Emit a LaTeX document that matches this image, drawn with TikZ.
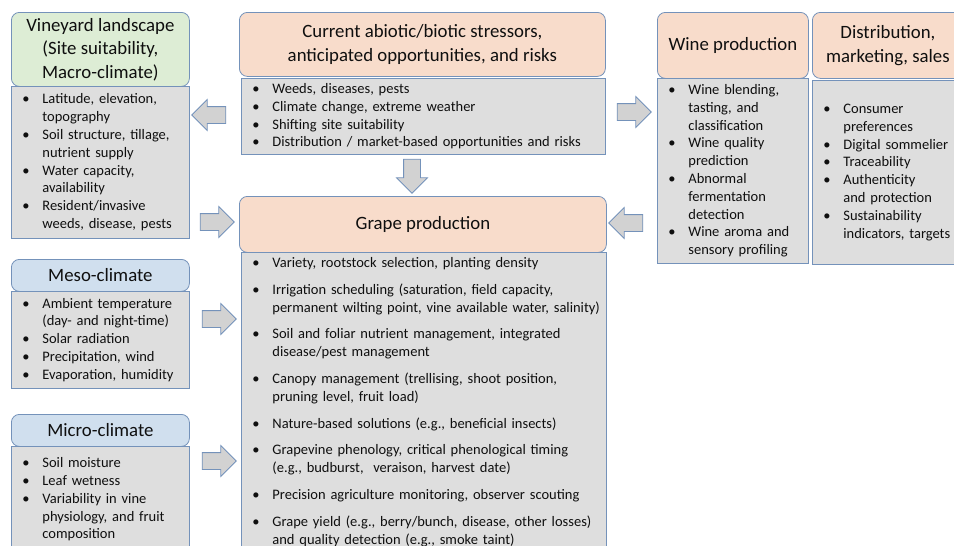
\documentclass[tikz,border=0pt]{standalone}
\usepackage{fontspec}
\setmainfont{Carlito}
\usetikzlibrary{shapes.arrows, positioning}
\definecolor{edge}{RGB}{116,146,186}
\definecolor{boxgray}{RGB}{222,222,222}
\definecolor{arrowgray}{RGB}{210,210,210}
\definecolor{peach}{RGB}{248,220,203}
\definecolor{leaf}{RGB}{221,237,213}
\definecolor{sky}{RGB}{208,223,238}
\definecolor{ink}{RGB}{15,15,15}
\newcommand{\headfont}{\fontsize{18.8pt}{23.5pt}\selectfont}
\newcommand{\bodyfont}{\fontsize{14.5pt}{17.8pt}\selectfont}
\newcommand{\bul}[1]{\hangindent=31pt\hangafter=1\noindent\hbox to 31pt{\hskip 11pt\textbullet\hfil}#1\par}

\begin{document}
\begin{tikzpicture}[x=1pt, y=-1pt,
  head/.style={draw=edge, line width=0.8pt, rounded corners=8pt, anchor=north west, align=center, font=\headfont, text=ink},
  body/.style={draw=edge, line width=0.8pt, fill=boxgray, anchor=north west, align=left, font=\bodyfont, text=ink, inner xsep=0pt, inner ysep=5pt, text width=#1},
  blockarrow/.style={single arrow, draw=edge, line width=0.8pt, fill=arrowgray, inner sep=0pt, inner ysep=8pt, single arrow head extend=7pt, minimum height=34pt}]
\useasboundingbox (0,0) rectangle (954,546);
\clip (0,0) rectangle (954,546);

\node[head, fill=leaf, minimum width=178pt, minimum height=74pt] (site) at (11,12) {Vineyard landscape\\(Site suitability,\\Macro-climate)};
\node[body=178pt, minimum height=152pt] (sitebody) at (11,86) {%
  \bul{Latitude, elevation,\newline topography}
  \bul{Soil structure, tillage,\newline nutrient supply}
  \bul{Water capacity,\newline availability}
  \bul{Resident/invasive\newline weeds, disease, pests}};

\node[head, fill=sky, minimum width=178pt, minimum height=32pt] (meso) at (11,259) {Meso-climate};
\node[body=178pt, minimum height=97pt] (mesobody) at (11,291) {%
  \bul{Ambient temperature\newline (day- and night-time)}
  \bul{Solar radiation}
  \bul{Precipitation, wind}
  \bul{Evaporation, humidity}};

\node[head, fill=sky, minimum width=178pt, minimum height=32pt] (micro) at (11,414) {Micro-climate};
\node[body=178pt, minimum height=106pt] (microbody) at (11,446) {%
  \bul{Soil moisture}
  \bul{Leaf wetness}
  \bul{Variability in vine\newline physiology, and fruit\newline composition}};

\node[head, fill=peach, minimum width=366pt, minimum height=64pt] (stress) at (239,12) {Current abiotic/biotic stressors,\\anticipated opportunities, and risks};
\node[body=364pt, minimum height=75pt] (stressbody) at (241,78) {%
  \bul{Weeds, diseases, pests}
  \bul{Climate change, extreme weather}
  \bul{Shifting site suitability}
  \bul{Distribution / market-based opportunities and risks}};

\node[head, fill=peach, minimum width=367pt, minimum height=56pt] (grape) at (239,196) {Grape production};
\node[body=365pt] (grapebody) at (241,252) {\setlength{\parskip}{9pt}%
  \bul{Variety, rootstock selection, planting density}
  \bul{Irrigation scheduling (saturation, field capacity,\newline permanent wilting point, vine available water, salinity)}
  \bul{Soil and foliar nutrient management, integrated\newline disease/pest management}
  \bul{Canopy management (trellising, shoot position,\newline pruning level, fruit load)}
  \bul{Nature-based solutions (e.g., beneficial insects)}
  \bul{Grapevine phenology, critical phenological timing\newline (e.g., budburst, \ veraison, harvest date)}
  \bul{Precision agriculture monitoring, observer scouting}
  \bul{Grape yield (e.g., berry/bunch, disease, other losses)\newline and quality detection (e.g., smoke taint)}};

\node[head, fill=peach, minimum width=151pt, minimum height=66pt] (wine) at (657,12) {Wine production};
\node[body=151pt, minimum height=185pt] (winebody) at (657,78) {%
  \bul{Wine blending,\newline tasting, and\newline classification}
  \bul{Wine quality\newline prediction}
  \bul{Abnormal\newline fermentation\newline detection}
  \bul{Wine aroma and\newline sensory profiling}};

\node[head, fill=peach, minimum width=151pt, minimum height=66pt] (market) at (812,12) {Distribution,\\marketing, sales};
\node[body=156pt, minimum height=184pt] (marketbody) at (812,80) {%
  \bul{Consumer\newline preferences}
  \bul{Digital sommelier}
  \bul{Traceability}
  \bul{Authenticity\newline and protection}
  \bul{Sustainability\newline indicators, targets}};

\node[blockarrow, rotate=180] (stressToSite) at (213,115) {};
\node[blockarrow] (siteToGrape) at (213,222) {};
\node[blockarrow] (mesoToGrape) at (215,319) {};
\node[blockarrow] (microToGrape) at (215,461) {};
\node[blockarrow, rotate=-90] (stressToGrape) at (412,172) {};
\node[blockarrow] (stressToWine) at (630,112) {};
\node[blockarrow, rotate=180] (wineToGrape) at (630,223) {};
\end{tikzpicture}
\end{document}
